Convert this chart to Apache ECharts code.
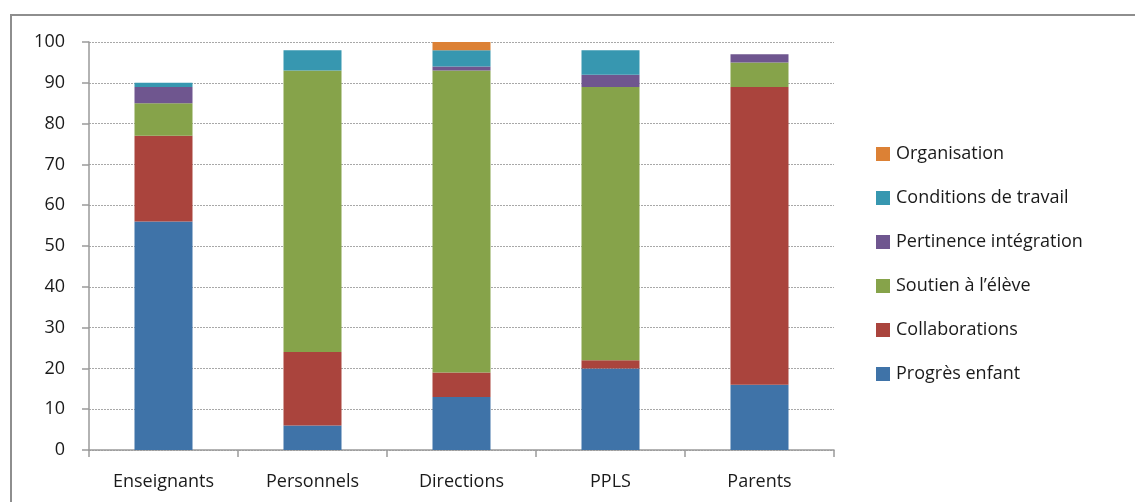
<!DOCTYPE html>
<html>
<head>
<meta charset="utf-8">
<script src="https://cdn.jsdelivr.net/npm/echarts@6/dist/echarts.min.js"></script>
<style>
html,body{margin:0;padding:0;background:#fff;}
#frame{position:absolute;left:10px;top:14px;width:1130px;height:500px;border-top:2px solid #8e8e8e;border-left:2px solid #8e8e8e;}
#chart{position:absolute;left:0;top:0;width:1135px;height:502px;}
</style>
</head>
<body>
<div id="frame"></div>
<div id="chart"></div>
<script>
const categories = ['Enseignants', 'Personnels', 'Directions', 'PPLS', 'Parents'];
const progresEnfant = [56, 6, 13, 20, 16];
const collaborations = [21, 18, 6, 2, 73];
const soutienEleve = [8, 69, 74, 67, 6];
const pertinenceIntegration = [4, 0, 1, 3, 2];
const conditionsTravail = [1, 5, 4, 6, 0];
const organisation = [0, 0, 2, 0, 0];
const yTicks = [0, 10, 20, 30, 40, 50, 60, 70, 80, 90, 100];

const seriesDefs = [
  ['Progrès enfant', progresEnfant, '#3f73a8'],
  ['Collaborations', collaborations, '#aa443d'],
  ['Soutien à l’élève', soutienEleve, '#86a34a'],
  ['Pertinence intégration', pertinenceIntegration, '#6f568f'],
  ['Conditions de travail', conditionsTravail, '#3797b0'],
  ['Organisation', organisation, '#dc8135']
];

const font = '"Open Sans", "Noto Sans", sans-serif';
const chart = echarts.init(document.getElementById('chart'), null, {renderer: 'canvas'});
chart.setOption({
  animation: false,
  textStyle: {fontFamily: font},
  grid: {left: 89, right: 301, top: 42, bottom: 52, containLabel: false},
  legend: {
    orient: 'vertical',
    left: 876,
    top: 144,
    padding: 0,
    itemWidth: 14,
    itemHeight: 14,
    itemGap: 24,
    icon: 'rect',
    data: seriesDefs.map(d => d[0]).reverse(),
    textStyle: {fontFamily: font, fontSize: 18, color: '#1a1a1a', lineHeight: 20, padding: [0,0,0,1]}
  },
  xAxis: {
    type: 'category',
    data: categories,
    axisLine: {lineStyle: {color: '#9a9a9a', width: 1.5}},
    axisTick: {show: true, length: 7, lineStyle: {color: '#9a9a9a', width: 1.5}},
    axisLabel: {color: '#1a1a1a', fontSize: 18, margin: 23, fontFamily: font}
  },
  yAxis: {
    type: 'value',
    min: 0, max: 100, interval: 10,
    axisLine: {show: true, lineStyle: {color: '#9a9a9a', width: 1.5}},
    axisTick: {show: true, length: 7, inside: false, lineStyle: {color: '#9a9a9a', width: 1.5}},
    axisLabel: {color: '#1a1a1a', fontSize: 18, margin: 24, fontFamily: font,
      formatter: v => yTicks.includes(v) ? String(v) : ''},
    splitLine: {show: true, lineStyle: {color: '#a8a8a8', type: [2, 1], width: 1}}
  },
  series: seriesDefs.map(d => ({
    name: d[0],
    type: 'bar',
    stack: 'total',
    data: d[1],
    barWidth: 58,
    itemStyle: {color: d[2]}
  }))
});
</script>
</body>
</html>
